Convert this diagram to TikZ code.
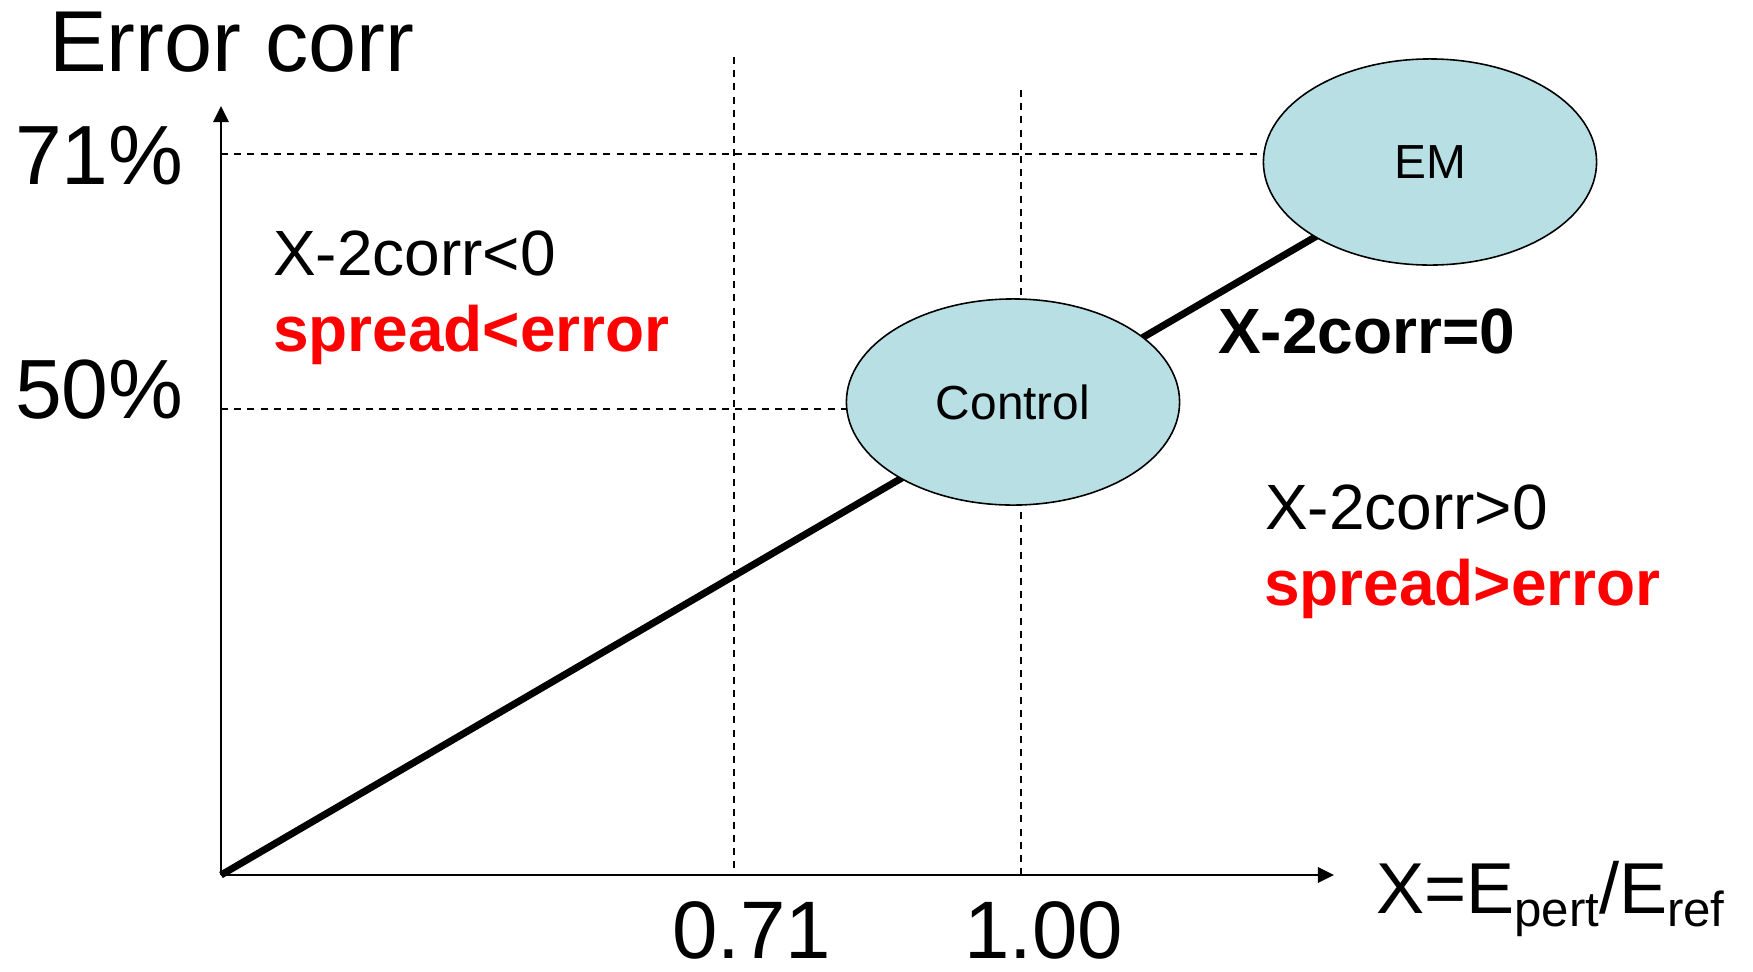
\documentclass[tikz,border=0pt]{standalone}
\usepackage{fontspec}
\setmainfont{Liberation Sans}
\usetikzlibrary{shapes.geometric,arrows.meta}
\definecolor{bubble}{RGB}{184,223,227}
\definecolor{redtxt}{RGB}{255,0,0}
\newcommand{\lowsub}[1]{\raisebox{-0.13cm}{\fontsize{14pt}{16pt}\selectfont #1}}
\tikzset{
  axisline/.style={line width=0.6pt,-{Triangle[length=4.6pt,width=4.4pt]}},
  gridline/.style={line width=0.45pt,dash pattern=on 2pt off 1.75pt},
  mainline/.style={line width=2pt},
  bubblenode/.style={ellipse,draw,line width=0.45pt,fill=bubble,minimum width=3.33cm,minimum height=2.06cm,inner sep=0pt,font=\fontsize{13.6pt}{16pt}\selectfont},
  lbl/.style={anchor=base west,inner sep=0pt,outer sep=0pt},
  big/.style={font=\fontsize{24.6pt}{28pt}\selectfont},
  pct/.style={font=\fontsize{23.9pt}{28pt}\selectfont},
  region/.style={font=\fontsize{18.2pt}{22pt}\selectfont},
  regionbold/.style={font=\fontsize{18.2pt}{22pt}\selectfont\bfseries},
  tick/.style={font=\fontsize{23.2pt}{27pt}\selectfont},
}
\begin{document}
\begin{tikzpicture}[x=0.01cm,y=-0.01cm]
\useasboundingbox (0,0) rectangle (1753,972);
% coordinates
\coordinate (O) at (221,875);
\coordinate (ytop) at (221,106);
\coordinate (xend) at (1334,875);
\coordinate (h71a) at (221,154);
\coordinate (h71b) at (1400,154);
\coordinate (h50a) at (221,409);
\coordinate (h50b) at (1000,409);
\coordinate (v71a) at (734,57);
\coordinate (v71b) at (734,875);
\coordinate (v100a) at (1021,90);
\coordinate (v100b) at (1021,875);
% grid lines
\draw[gridline] (h71a) -- (h71b);
\draw[gridline] (h50a) -- (h50b);
\draw[gridline] (v71a) -- (v71b);
\draw[gridline] (v100a) -- (v100b);
% main diagonal line
\coordinate (lineend) at (1430,170);
\draw[mainline] (O) -- (lineend);
% bubbles
\node[bubblenode] (ctrl) at (1013,402) {Control};
\node[bubblenode] (em) at (1430,162) {EM};
% axes
\draw[axisline] (O) -- (ytop);
\draw[axisline] (O) -- (xend);
% axis labels
\node[lbl,big] (ylab) at (49,71) {Error corr};
\node[lbl,pct] (t71) at (15,184) {71\%};
\node[lbl,pct] (t50) at (15,418) {50\%};
\node[lbl,tick] (x71) at (672,958) {0.71};
\node[lbl,tick] (x100) at (964,958) {1.00};
\node[lbl,font=\fontsize{20.5pt}{24pt}\selectfont] (xlab) at (1376,913) {X=E\lowsub{pert}/E\lowsub{ref}};
% region texts
\node[lbl,region] (neg) at (273,275) {X-2corr<0};
\node[lbl,regionbold,text=redtxt] (negr) at (273,351) {spread<error};
\node[lbl,regionbold] (zero) at (1218,353) {X-2corr=0};
\node[lbl,region] (pos) at (1265,529) {X-2corr>0};
\node[lbl,regionbold,text=redtxt] (posr) at (1264,605) {spread>error};
\end{tikzpicture}
\end{document}
